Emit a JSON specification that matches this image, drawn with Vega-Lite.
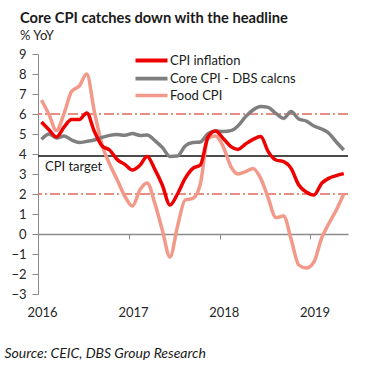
{
  "$schema": "https://vega.github.io/schema/vega-lite/v6.json",
  "width": 310,
  "height": 240,
  "autosize": {"type": "none"},
  "padding": {"left": 38, "top": 54, "right": 23, "bottom": 79},
  "background": "white",
  "config": {
    "view": {"stroke": null},
    "font": "Lato",
    "axis": {"labelOverlap": false},
    "axisY": {"labelOverlap": false},
    "axisQuantitative": {"labelOverlap": false}
  },
  "title": {
    "text": "Core CPI catches down with the headline",
    "subtitle": "% YoY",
    "anchor": "start",
    "frame": "group",
    "dx": -18,
    "offset": 5,
    "font": "Lato",
    "fontSize": 14.7,
    "fontWeight": "bold",
    "color": "#1a1a1a",
    "subtitleFont": "Lato",
    "subtitleFontSize": 13,
    "subtitleColor": "#262626",
    "subtitlePadding": 4
  },
  "datasets": {
    "refs": [{"value": 6}, {"value": 2}],
    "target": [{"value": 3.9}],
    "notes": [{"date": "2016-01-29", "value": 3.35, "label": "CPI target"}],
    "series": [
      {"date": "2016-01-15", "series": "Food CPI", "value": 6.7},
      {"date": "2016-02-15", "series": "Food CPI", "value": 5.95},
      {"date": "2016-03-15", "series": "Food CPI", "value": 5.17},
      {"date": "2016-04-15", "series": "Food CPI", "value": 6.03},
      {"date": "2016-05-15", "series": "Food CPI", "value": 7.12},
      {"date": "2016-06-15", "series": "Food CPI", "value": 7.4},
      {"date": "2016-07-15", "series": "Food CPI", "value": 8.0},
      {"date": "2016-08-15", "series": "Food CPI", "value": 6.1},
      {"date": "2016-09-15", "series": "Food CPI", "value": 4.45},
      {"date": "2016-10-15", "series": "Food CPI", "value": 3.5},
      {"date": "2016-11-15", "series": "Food CPI", "value": 2.7},
      {"date": "2016-12-15", "series": "Food CPI", "value": 1.9},
      {"date": "2017-01-15", "series": "Food CPI", "value": 1.4},
      {"date": "2017-02-15", "series": "Food CPI", "value": 2.23},
      {"date": "2017-03-15", "series": "Food CPI", "value": 2.55},
      {"date": "2017-04-15", "series": "Food CPI", "value": 1.53},
      {"date": "2017-05-15", "series": "Food CPI", "value": 0.2},
      {"date": "2017-06-15", "series": "Food CPI", "value": -1.15},
      {"date": "2017-07-15", "series": "Food CPI", "value": 0.37},
      {"date": "2017-08-15", "series": "Food CPI", "value": 1.7},
      {"date": "2017-09-15", "series": "Food CPI", "value": 1.78},
      {"date": "2017-10-15", "series": "Food CPI", "value": 2.5},
      {"date": "2017-11-15", "series": "Food CPI", "value": 4.78},
      {"date": "2017-12-15", "series": "Food CPI", "value": 4.9},
      {"date": "2018-01-15", "series": "Food CPI", "value": 4.37},
      {"date": "2018-02-15", "series": "Food CPI", "value": 3.37},
      {"date": "2018-03-15", "series": "Food CPI", "value": 3.0},
      {"date": "2018-04-15", "series": "Food CPI", "value": 3.12},
      {"date": "2018-05-15", "series": "Food CPI", "value": 3.28},
      {"date": "2018-06-15", "series": "Food CPI", "value": 2.78},
      {"date": "2018-07-15", "series": "Food CPI", "value": 1.8},
      {"date": "2018-08-15", "series": "Food CPI", "value": 0.82},
      {"date": "2018-09-15", "series": "Food CPI", "value": 0.9},
      {"date": "2018-10-15", "series": "Food CPI", "value": -0.25},
      {"date": "2018-11-15", "series": "Food CPI", "value": -1.55},
      {"date": "2018-12-15", "series": "Food CPI", "value": -1.7},
      {"date": "2019-01-15", "series": "Food CPI", "value": -1.4},
      {"date": "2019-02-15", "series": "Food CPI", "value": -0.2},
      {"date": "2019-03-15", "series": "Food CPI", "value": 0.5},
      {"date": "2019-04-15", "series": "Food CPI", "value": 1.2},
      {"date": "2019-05-15", "series": "Food CPI", "value": 2.0},
      {"date": "2016-01-15", "series": "Core CPI - DBS calcns", "value": 4.73},
      {"date": "2016-02-15", "series": "Core CPI - DBS calcns", "value": 5.0},
      {"date": "2016-03-15", "series": "Core CPI - DBS calcns", "value": 4.8},
      {"date": "2016-04-15", "series": "Core CPI - DBS calcns", "value": 4.9},
      {"date": "2016-05-15", "series": "Core CPI - DBS calcns", "value": 4.7},
      {"date": "2016-06-15", "series": "Core CPI - DBS calcns", "value": 4.57},
      {"date": "2016-07-15", "series": "Core CPI - DBS calcns", "value": 4.63},
      {"date": "2016-08-15", "series": "Core CPI - DBS calcns", "value": 4.7},
      {"date": "2016-09-15", "series": "Core CPI - DBS calcns", "value": 4.83},
      {"date": "2016-10-15", "series": "Core CPI - DBS calcns", "value": 4.93},
      {"date": "2016-11-15", "series": "Core CPI - DBS calcns", "value": 4.97},
      {"date": "2016-12-15", "series": "Core CPI - DBS calcns", "value": 4.94},
      {"date": "2017-01-15", "series": "Core CPI - DBS calcns", "value": 5.02},
      {"date": "2017-02-15", "series": "Core CPI - DBS calcns", "value": 4.93},
      {"date": "2017-03-15", "series": "Core CPI - DBS calcns", "value": 4.95},
      {"date": "2017-04-15", "series": "Core CPI - DBS calcns", "value": 4.67},
      {"date": "2017-05-15", "series": "Core CPI - DBS calcns", "value": 4.33},
      {"date": "2017-06-15", "series": "Core CPI - DBS calcns", "value": 3.88},
      {"date": "2017-07-15", "series": "Core CPI - DBS calcns", "value": 3.9},
      {"date": "2017-08-15", "series": "Core CPI - DBS calcns", "value": 4.4},
      {"date": "2017-09-15", "series": "Core CPI - DBS calcns", "value": 4.57},
      {"date": "2017-10-15", "series": "Core CPI - DBS calcns", "value": 4.6},
      {"date": "2017-11-15", "series": "Core CPI - DBS calcns", "value": 5.02},
      {"date": "2017-12-15", "series": "Core CPI - DBS calcns", "value": 5.15},
      {"date": "2018-01-15", "series": "Core CPI - DBS calcns", "value": 5.13},
      {"date": "2018-02-15", "series": "Core CPI - DBS calcns", "value": 5.17},
      {"date": "2018-03-15", "series": "Core CPI - DBS calcns", "value": 5.4},
      {"date": "2018-04-15", "series": "Core CPI - DBS calcns", "value": 5.87},
      {"date": "2018-05-15", "series": "Core CPI - DBS calcns", "value": 6.2},
      {"date": "2018-06-15", "series": "Core CPI - DBS calcns", "value": 6.37},
      {"date": "2018-07-15", "series": "Core CPI - DBS calcns", "value": 6.33},
      {"date": "2018-08-15", "series": "Core CPI - DBS calcns", "value": 6.03},
      {"date": "2018-09-15", "series": "Core CPI - DBS calcns", "value": 5.78},
      {"date": "2018-10-15", "series": "Core CPI - DBS calcns", "value": 6.12},
      {"date": "2018-11-15", "series": "Core CPI - DBS calcns", "value": 5.75},
      {"date": "2018-12-15", "series": "Core CPI - DBS calcns", "value": 5.65},
      {"date": "2019-01-15", "series": "Core CPI - DBS calcns", "value": 5.4},
      {"date": "2019-02-15", "series": "Core CPI - DBS calcns", "value": 5.25},
      {"date": "2019-03-15", "series": "Core CPI - DBS calcns", "value": 5.05},
      {"date": "2019-04-15", "series": "Core CPI - DBS calcns", "value": 4.6},
      {"date": "2019-05-15", "series": "Core CPI - DBS calcns", "value": 4.2},
      {"date": "2016-01-15", "series": "CPI inflation", "value": 5.6},
      {"date": "2016-02-15", "series": "CPI inflation", "value": 5.2},
      {"date": "2016-03-15", "series": "CPI inflation", "value": 4.85},
      {"date": "2016-04-15", "series": "CPI inflation", "value": 5.35},
      {"date": "2016-05-15", "series": "CPI inflation", "value": 5.72},
      {"date": "2016-06-15", "series": "CPI inflation", "value": 5.72},
      {"date": "2016-07-15", "series": "CPI inflation", "value": 6.05},
      {"date": "2016-08-15", "series": "CPI inflation", "value": 5.12},
      {"date": "2016-09-15", "series": "CPI inflation", "value": 4.4},
      {"date": "2016-10-15", "series": "CPI inflation", "value": 4.2},
      {"date": "2016-11-15", "series": "CPI inflation", "value": 3.72},
      {"date": "2016-12-15", "series": "CPI inflation", "value": 3.48},
      {"date": "2017-01-15", "series": "CPI inflation", "value": 3.2},
      {"date": "2017-02-15", "series": "CPI inflation", "value": 3.45},
      {"date": "2017-03-15", "series": "CPI inflation", "value": 3.87},
      {"date": "2017-04-15", "series": "CPI inflation", "value": 3.23},
      {"date": "2017-05-15", "series": "CPI inflation", "value": 2.45},
      {"date": "2017-06-15", "series": "CPI inflation", "value": 1.45},
      {"date": "2017-07-15", "series": "CPI inflation", "value": 2.0},
      {"date": "2017-08-15", "series": "CPI inflation", "value": 2.78},
      {"date": "2017-09-15", "series": "CPI inflation", "value": 3.28},
      {"date": "2017-10-15", "series": "CPI inflation", "value": 3.45},
      {"date": "2017-11-15", "series": "CPI inflation", "value": 4.85},
      {"date": "2017-12-15", "series": "CPI inflation", "value": 5.15},
      {"date": "2018-01-15", "series": "CPI inflation", "value": 4.78},
      {"date": "2018-02-15", "series": "CPI inflation", "value": 4.37},
      {"date": "2018-03-15", "series": "CPI inflation", "value": 4.23},
      {"date": "2018-04-15", "series": "CPI inflation", "value": 4.5},
      {"date": "2018-05-15", "series": "CPI inflation", "value": 4.73},
      {"date": "2018-06-15", "series": "CPI inflation", "value": 4.87},
      {"date": "2018-07-15", "series": "CPI inflation", "value": 4.12},
      {"date": "2018-08-15", "series": "CPI inflation", "value": 3.7},
      {"date": "2018-09-15", "series": "CPI inflation", "value": 3.62},
      {"date": "2018-10-15", "series": "CPI inflation", "value": 3.28},
      {"date": "2018-11-15", "series": "CPI inflation", "value": 2.45},
      {"date": "2018-12-15", "series": "CPI inflation", "value": 2.1},
      {"date": "2019-01-15", "series": "CPI inflation", "value": 1.95},
      {"date": "2019-02-15", "series": "CPI inflation", "value": 2.53},
      {"date": "2019-03-15", "series": "CPI inflation", "value": 2.78},
      {"date": "2019-04-15", "series": "CPI inflation", "value": 2.92},
      {"date": "2019-05-15", "series": "CPI inflation", "value": 3.02}
    ]
  },
  "encoding": {
    "y": {
      "field": "value",
      "type": "quantitative",
      "scale": {"domain": [-3, 9], "nice": false, "zero": false},
      "axis": {
        "values": [-3, -2, -1, 0, 1, 2, 3, 4, 5, 6, 7, 8, 9],
        "grid": false,
        "domainColor": "#8a8a8a",
        "domainWidth": 1,
        "tickColor": "#8a8a8a",
        "tickSize": 6,
        "labelPadding": 6,
        "labelFont": "Lato",
        "labelFontSize": 13,
        "labelColor": "#262626",
        "labelFlush": false,
        "labelOverlap": false,
        "labelSeparation": 0,
        "title": null
      }
    }
  },
  "layer": [
    {
      "data": {"name": "refs"},
      "mark": {"type": "rule", "color": "#e06a5c", "strokeWidth": 1.5, "strokeDash": [10, 3, 2, 3]},
      "encoding": {}
    },
    {
      "data": {"name": "target"},
      "mark": {"type": "rule", "color": "#111111", "strokeWidth": 1.5},
      "encoding": {}
    },
    {
      "data": {"name": "series"},
      "mark": {"type": "line", "interpolate": "monotone", "strokeWidth": 3.5},
      "encoding": {
        "x": {
          "field": "date",
          "type": "temporal",
          "scale": {"type": "utc", "domain": [{"year": 2016, "month": 1, "date": 1, "utc": true}, {"year": 2019, "month": 6, "date": 1, "utc": true}]},
          "axis": {
            "offset": -60,
            "values": [{"year": 2016, "month": 1, "date": 1, "utc": true}, {"year": 2017, "month": 1, "date": 1, "utc": true}, {"year": 2018, "month": 1, "date": 1, "utc": true}, {"year": 2019, "month": 1, "date": 1, "utc": true}],
            "format": "%Y",
            "formatType": "utc",
            "grid": false,
            "domainColor": "#8a8a8a",
            "domainWidth": 1.5,
            "tickColor": "#8a8a8a",
            "tickSize": 5,
            "tickWidth": 1,
            "labelPadding": 67,
            "labelOffset": 4,
            "labelFont": "Lato",
            "labelFontSize": 13,
            "labelColor": "#262626",
            "labelFlush": false,
            "labelOverlap": false,
            "title": "Source: CEIC, DBS Group Research",
            "titleFont": "Lato",
            "titleFontSize": 14,
            "titleFontStyle": "italic",
            "titleFontWeight": "normal",
            "titleColor": "#1a1a1a",
            "titleAnchor": "start",
            "titleAlign": "left",
            "titleBaseline": "alphabetic",
            "titleX": -34,
            "titleY": 123
          }
        },
        "color": {
          "field": "series",
          "type": "nominal",
          "sort": ["CPI inflation", "Core CPI - DBS calcns", "Food CPI"],
          "scale": {"domain": ["CPI inflation", "Core CPI - DBS calcns", "Food CPI"], "range": ["#ee0000", "#7f7f7f", "#f2998a"]},
          "legend": {
            "title": null,
            "orient": "none",
            "legendX": 107,
            "legendY": 0,
            "direction": "vertical",
            "padding": 0,
            "symbolType": "M-4,0L4,0",
            "symbolSize": 64,
            "symbolStrokeWidth": 3.5,
            "labelOffset": 12,
            "labelFont": "Lato",
            "labelFontSize": 13,
            "labelColor": "#1a1a1a",
            "rowPadding": 2
          }
        },
        "strokeWidth": {
          "field": "series",
          "type": "nominal",
          "scale": {"domain": ["CPI inflation", "Core CPI - DBS calcns", "Food CPI"], "range": [4, 3.5, 3.5]},
          "legend": null
        }
      }
    },
    {
      "data": {"name": "notes"},
      "mark": {"type": "text", "align": "left", "baseline": "middle", "font": "Lato", "fontSize": 13, "color": "#1a1a1a"},
      "encoding": {
        "x": {"field": "date", "type": "temporal"},
        "text": {"field": "label"}
      }
    }
  ]
}
